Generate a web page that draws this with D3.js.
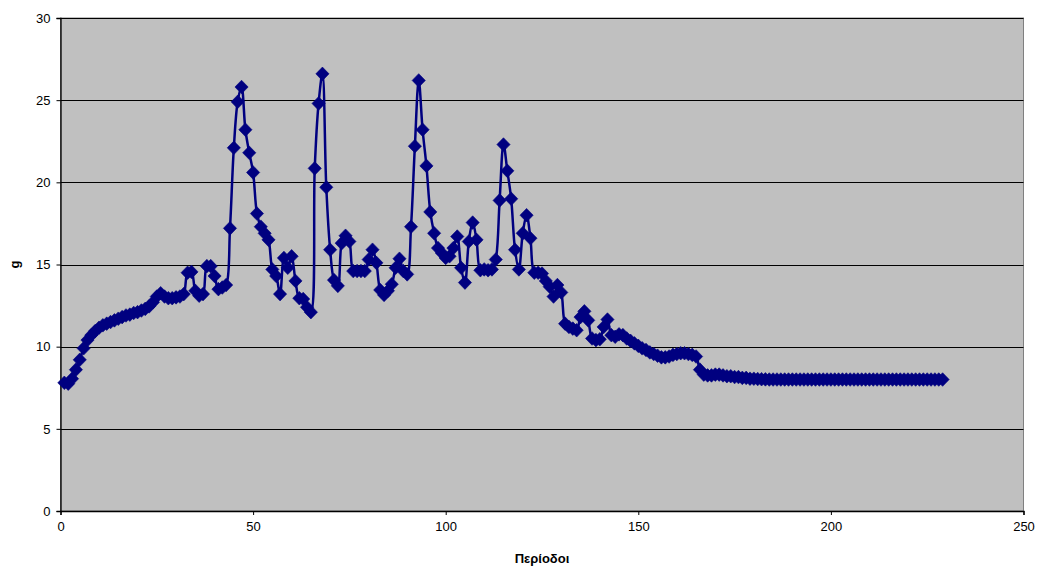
<!DOCTYPE html>
<html>
<head>
<meta charset="utf-8">
<script src="https://cdn.jsdelivr.net/npm/d3@7"></script>
<style>
  html, body { margin: 0; padding: 0; background: #ffffff; }
  svg { display: block; font-family: "Liberation Sans", Arial, sans-serif; }
</style>
</head>
<body>
<svg id="chart" width="1042" height="572"></svg>
<script>
// g per period (periods 1..229)
const gValues = [
  7.8, 7.75, 8.05, 8.6, 9.2, 9.9, 10.4, 10.7, 10.95, 11.15,
  11.3, 11.4, 11.5, 11.6, 11.7, 11.8, 11.9, 11.95, 12.05, 12.1,
  12.2, 12.3, 12.45, 12.7, 13.05, 13.25, 13.05, 12.95, 12.95, 13.0,
  13.05, 13.2, 14.5, 14.55, 13.4, 13.1, 13.2, 14.9, 14.9, 14.3,
  13.5, 13.6, 13.75, 17.2, 22.1, 24.9, 25.8, 23.2, 21.8, 20.6,
  18.1, 17.3, 16.9, 16.5, 14.7, 14.3, 13.2, 15.4, 14.8, 15.5,
  14.0, 12.95, 12.9, 12.4, 12.1, 20.85, 24.8, 26.6, 19.7, 15.9,
  14.05, 13.7, 16.3, 16.75, 16.4, 14.6, 14.6, 14.6, 14.6, 15.3,
  15.9, 15.1, 13.45, 13.15, 13.4, 13.8, 14.8, 15.35, 14.6, 14.4,
  17.3, 22.2, 26.2, 23.2, 21.0, 18.2, 16.9, 16.0, 15.7, 15.4,
  15.5, 16.0, 16.7, 14.8, 13.9, 16.4, 17.55, 16.5, 14.65, 14.7,
  14.65, 14.7, 15.3, 18.9, 22.3, 20.7, 19.0, 15.9, 14.7, 16.9,
  18.0, 16.6, 14.5, 14.5, 14.45, 14.0, 13.65, 13.05, 13.75, 13.3,
  11.4, 11.2, 11.1, 11.0, 11.8, 12.15, 11.6, 10.5, 10.4, 10.45,
  11.2, 11.65, 10.7, 10.6, 10.75, 10.7, 10.5, 10.35, 10.2, 10.05,
  9.9, 9.8, 9.65, 9.55, 9.45, 9.35, 9.35, 9.4, 9.5, 9.55,
  9.6, 9.6, 9.55, 9.5, 9.4, 8.6, 8.3, 8.25, 8.25, 8.3,
  8.3, 8.25, 8.2, 8.2, 8.15, 8.15, 8.1, 8.1, 8.05, 8.05,
  8.03, 8.02, 8.01, 8.0, 8.0, 8.0, 8.0, 8.0, 8.0, 8.0,
  8.0, 8.0, 8.0, 8.0, 8.0, 8.0, 8.0, 8.0, 8.0, 8.0,
  8.0, 8.0, 8.0, 8.0, 8.0, 8.0, 8.0, 8.0, 8.0, 8.0,
  8.0, 8.0, 8.0, 8.0, 8.0, 8.0, 8.0, 8.0, 8.0, 8.0,
  8.0, 8.0, 8.0, 8.0, 8.0, 8.0, 8.0, 8.0, 8.0
];
const xTicks = [0, 50, 100, 150, 200, 250];
const yTicks = [0, 5, 10, 15, 20, 25, 30];
const xTitle = "Περίοδοι";
const yTitle = "g";

const points = gValues.map((v, i) => ({ period: i + 1, g: v }));

const plot = { left: 60.5, right: 1023.5, top: 18, bottom: 511 };
const svg = d3.select("#chart");

const x = d3.scaleLinear().domain([0, 250]).range([plot.left, plot.right]);
const y = d3.scaleLinear().domain([0, 30]).range([plot.bottom, plot.top]);

// plot area background
svg.append("rect")
  .attr("x", plot.left).attr("y", plot.top)
  .attr("width", plot.right - plot.left).attr("height", plot.bottom - plot.top)
  .attr("fill", "#c0c0c0")
  .attr("stroke", "#808080").attr("stroke-width", 1);

// horizontal gridlines
svg.append("g")
  .selectAll("line")
  .data(yTicks.filter(t => t > 0))
  .join("line")
  .attr("x1", plot.left).attr("x2", plot.right)
  .attr("y1", d => Math.round(y(d)) + 0.5).attr("y2", d => Math.round(y(d)) + 0.5)
  .attr("stroke", "#000").attr("stroke-width", 1);

// axes
const yAxis = d3.axisLeft(y).tickValues(yTicks).tickSize(4).tickPadding(6).tickFormat(d3.format("d"));
const xAxis = d3.axisBottom(x).tickValues(xTicks).tickSize(4).tickPadding(7).tickFormat(d3.format("d"));

const gy = svg.append("g").attr("transform", `translate(${plot.left},0)`).call(yAxis);
const gx = svg.append("g").attr("transform", `translate(0,${plot.bottom})`).call(xAxis);
[gx, gy].forEach(g => {
  g.select(".domain").attr("stroke", "#000").attr("stroke-width", 1.3);
  g.selectAll(".tick line").attr("stroke", "#000");
  g.selectAll(".tick text")
    .attr("font-family", "Liberation Sans, Arial, sans-serif")
    .attr("font-size", 13).attr("fill", "#000");
});

// series line
const line = d3.line()
  .x(d => x(d.period))
  .y(d => y(d.g))
  .curve(d3.curveCatmullRom.alpha(0.5));

svg.append("path")
  .datum(points)
  .attr("d", line)
  .attr("fill", "none")
  .attr("stroke", "#000080")
  .attr("stroke-width", 2.5)
  .attr("stroke-linejoin", "round");

// diamond markers
const diamond = "M0,-6.8L6.6,0L0,6.8L-6.6,0Z";
svg.append("g")
  .selectAll("path")
  .data(points)
  .join("path")
  .attr("d", diamond)
  .attr("transform", d => `translate(${x(d.period)},${y(d.g)})`)
  .attr("fill", "#000080")
  .attr("stroke", "#000080")
  .attr("stroke-width", 0.6);

// axis titles
svg.append("text")
  .attr("x", (plot.left + plot.right) / 2)
  .attr("y", 563)
  .attr("text-anchor", "middle")
  .attr("font-size", 13).attr("font-weight", "bold")
  .text(xTitle);

svg.append("text")
  .attr("transform", `translate(19,${(plot.top + plot.bottom) / 2}) rotate(-90)`)
  .attr("text-anchor", "middle")
  .attr("font-size", 13).attr("font-weight", "bold")
  .text(yTitle);
</script>
</body>
</html>
